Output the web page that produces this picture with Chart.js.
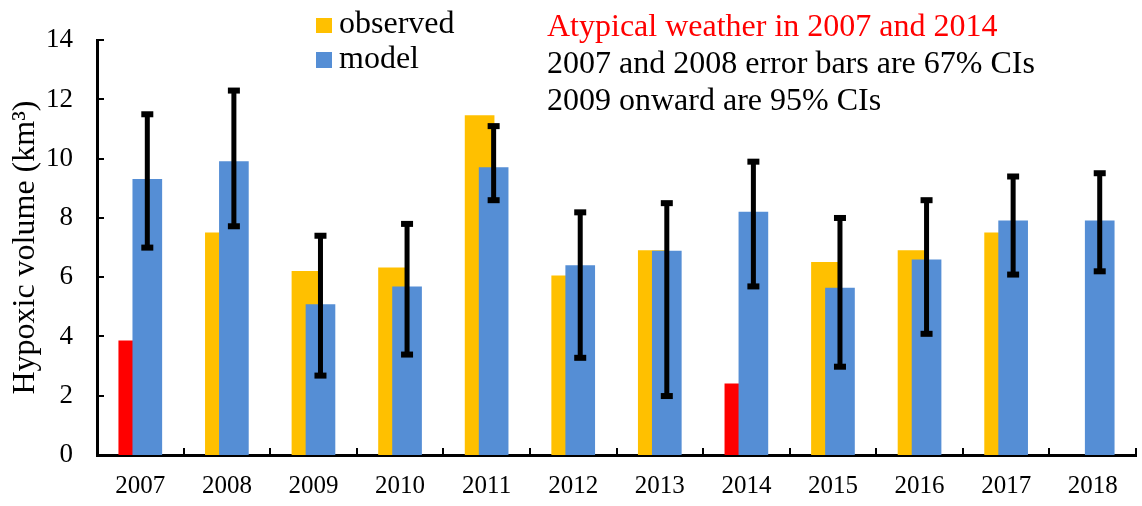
<!DOCTYPE html>
<html>
<head>
<meta charset="utf-8">
<script src="https://cdn.jsdelivr.net/npm/chart.js@4.4.1/dist/chart.umd.min.js"></script>
<style>
  html, body { margin: 0; padding: 0; background: #fff; }
  #wrap { width: 1142px; height: 506px; position: relative; }
</style>
</head>
<body>
<div id="wrap"><canvas id="hypoxia"></canvas></div>
<script>

/* DATA */

const years = ['2007', '2008', '2009', '2010', '2011', '2012', '2013', '2014', '2015', '2016', '2017', '2018'];

const observed = [3.85, 7.5, 6.2, 6.32, 11.46, 6.05, 6.9, 2.4, 6.5, 6.9, 7.5, null];

const model = [9.3, 9.9, 5.08, 5.68, 9.7, 6.39, 6.88, 8.2, 5.63, 6.59, 7.9, 7.9];

const errLow = [7.0, 7.72, 2.68, 3.39, 8.6, 3.28, 1.99, 5.69, 2.98, 4.09, 6.09, 6.2];

const errHigh = [11.5, 12.3, 7.4, 7.8, 11.1, 8.19, 8.5, 9.9, 8.0, 8.6, 9.4, 9.51];

const atypicalYears = ['2007', '2014'];

const yTicks = [0, 2, 4, 6, 8, 10, 12, 14];

const yTitle = 'Hypoxic volume (km³)';

const notes = [
    { text: 'Atypical weather in 2007 and 2014', color: '#ff0000' },
    { text: '2007 and 2008 error bars are 67% CIs', color: '#000000' },
    { text: '2009 onward are 95% CIs', color: '#000000' }
];

/* ESTILOS */

const ORANGE = '#FFC000';
const BLUE = '#558ED5';
const RED = '#FF0000';
const SERIF = '"Liberation Serif", "Times New Roman", serif';

// shift of each series inside its category (fraction of a category)
const SHIFT = 0.081;
const firstYear = +years[0];
const lastYear = +years[years.length - 1];

/* PLUGIN: ticks hacia adentro + barras de error + textos */

const extras = {
    id: 'extras',
    afterDraw(chart) {
        const ctx = chart.ctx;
        const x = chart.scales.x;
        const y = chart.scales.y;
        const area = chart.chartArea;

        ctx.save();

        // y ticks (inside)
        ctx.strokeStyle = '#000';
        ctx.lineWidth = 2;
        yTicks.forEach(v => {
            const py = Math.round(y.getPixelForValue(v));
            ctx.beginPath();
            ctx.moveTo(area.left, py);
            ctx.lineTo(area.left + 7, py);
            ctx.stroke();
        });

        // x ticks at category boundaries (inside)
        const half = (x.getPixelForValue(1) - x.getPixelForValue(0)) / 2;
        for (let i = 0; i <= years.length; i++) {
            const px = Math.round(x.getPixelForValue(i) - half);
            ctx.beginPath();
            ctx.moveTo(px, area.bottom);
            ctx.lineTo(px, area.bottom - 7);
            ctx.stroke();
        }

        // error bars on model
        const meta = chart.getDatasetMeta(1);
        ctx.fillStyle = '#000';
        meta.data.forEach((bar, i) => {
            const top = y.getPixelForValue(errHigh[i]);
            const low = y.getPixelForValue(errLow[i]);
            ctx.fillRect(bar.x - 2.5, top, 5, low - top);
            ctx.fillRect(bar.x - 6, top - 3, 12, 6);
            ctx.fillRect(bar.x - 6, low - 3, 12, 6);
        });

        // y title
        ctx.save();
        ctx.font = '32px ' + SERIF;
        ctx.fillStyle = '#000';
        ctx.textAlign = 'center';
        ctx.textBaseline = 'alphabetic';
        ctx.translate(34, (area.top + area.bottom) / 2);
        ctx.rotate(-Math.PI / 2);
        ctx.fillText(yTitle, 0, 0);
        ctx.restore();

        // legend
        ctx.font = '32px ' + SERIF;
        ctx.textBaseline = 'alphabetic';
        ctx.textAlign = 'left';
        ctx.fillStyle = ORANGE;
        ctx.fillRect(316, 18, 16, 15);
        ctx.fillStyle = BLUE;
        ctx.fillRect(316, 52, 16, 16);
        ctx.fillStyle = '#000';
        ctx.fillText(chart.data.datasets[0].label, 339, 33);
        ctx.fillText(chart.data.datasets[1].label, 339, 68);

        // notes
        notes.forEach((n, i) => {
            ctx.fillStyle = n.color;
            ctx.fillText(n.text, 547, 36 + i * 37);
        });

        ctx.restore();
    }
};

/* GRAFICO */

new Chart(document.getElementById('hypoxia'), {

    type: 'bar',

    data: {

        labels: years,

        datasets: [{

            label: 'observed',

            data: observed,

            xAxisID: 'xo',

            order: 1,

            backgroundColor: years.map(yr => atypicalYears.includes(yr) ? RED : ORANGE),

            barThickness: 29,

            grouped: false

        }, {

            label: 'model',

            data: model,

            xAxisID: 'xm',

            order: 0,

            backgroundColor: BLUE,

            barThickness: 29,

            grouped: false

        }]

    },

    options: {

        responsive: true,

        maintainAspectRatio: false,

        animation: false,

        layout: { padding: { top: 18, right: 6, left: 0, bottom: 0 } },

        plugins: {

            legend: { display: false },

            tooltip: { enabled: false }

        },

        scales: {

            x: {

                type: 'category',

                offset: true,

                grid: { display: false, drawTicks: false, offset: true },

                border: { display: true, color: '#000', width: 3 },

                ticks: { color: '#000', font: { family: SERIF, size: 25 }, padding: 16, maxRotation: 0 },

                afterFit(scale) { scale.height = 51; }

            },

            xo: {

                type: 'linear',

                display: false,

                offset: false,

                min: firstYear - 0.5 + SHIFT,

                max: lastYear + 0.5 + SHIFT

            },

            xm: {

                type: 'linear',

                display: false,

                offset: false,

                min: firstYear - 0.5 - SHIFT,

                max: lastYear + 0.5 - SHIFT

            },

            y: {

                min: 0,

                max: 14,

                afterBuildTicks(scale) { scale.ticks = yTicks.map(v => ({ value: v })); },

                grid: { display: false, drawTicks: false },

                border: { display: true, color: '#000', width: 3 },

                ticks: { color: '#000', font: { family: SERIF, size: 27 }, padding: 24 },

                afterFit(scale) { scale.width = 97; }

            }

        }

    },

    plugins: [extras]

});

</script>
</body>
</html>
